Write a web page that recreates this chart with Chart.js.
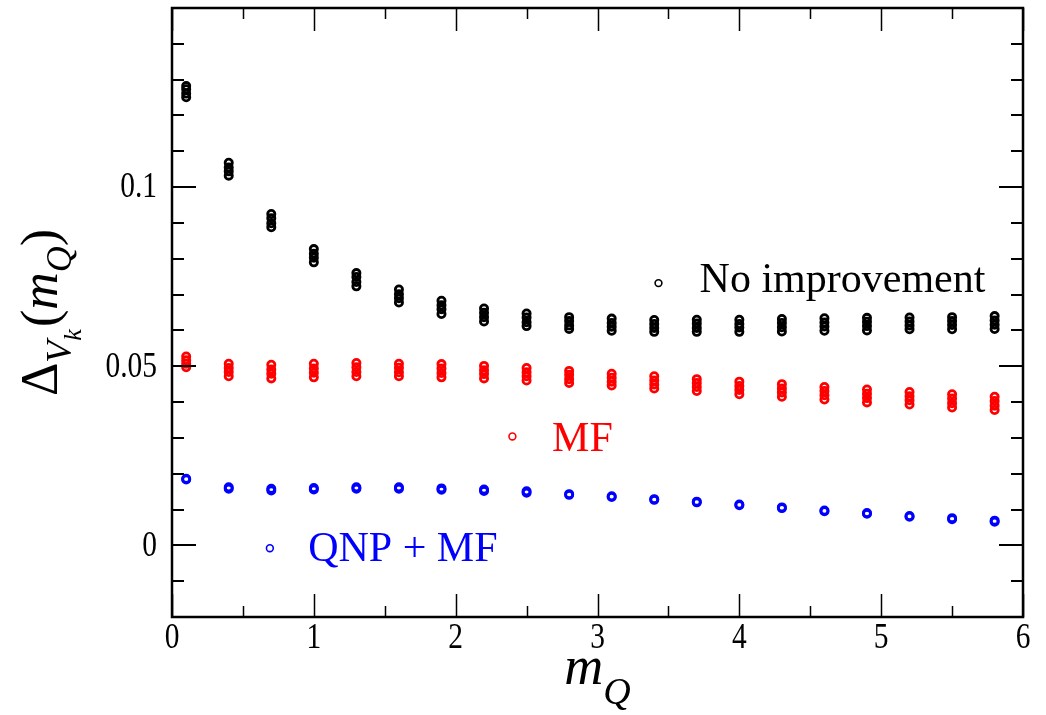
<!doctype html>
<html>

<head>
	<title>Delta V_k versus m_Q</title>
	<script src="https://cdn.jsdelivr.net/npm/chart.js@4.4.0/dist/chart.umd.min.js"></script>
	<style>
		html, body { margin: 0; padding: 0; background: #fff; }
		#canvas-holder { width: 1046px; height: 715px; }
	</style>
</head>

<body>
	<div id="canvas-holder">
		<canvas id="chart-area" width="1046" height="715"></canvas>
	</div>

	<script>
		// masses on the x axis
		var mQ = [0.1, 0.4, 0.7, 1.0, 1.3, 1.6, 1.9, 2.2, 2.5, 2.8, 3.1, 3.4, 3.7, 4.0, 4.3, 4.6, 4.9, 5.2, 5.5, 5.8];

		// several values per mass, read top to bottom
		var noImprovement = [
			[0.1282, 0.1273, 0.1261, 0.1251],
			[0.1068, 0.1055, 0.1044, 0.1032],
			[0.0925, 0.0913, 0.0899, 0.0888],
			[0.0827, 0.0814, 0.0803, 0.0790],
			[0.0760, 0.0749, 0.0735, 0.0723],
			[0.0714, 0.0701, 0.0690, 0.0678],
			[0.0683, 0.0670, 0.0659, 0.0646],
			[0.0661, 0.0649, 0.0637, 0.0625],
			[0.0647, 0.0636, 0.0623, 0.0612],
			[0.0637, 0.0626, 0.0614, 0.0604],
			[0.0633, 0.0621, 0.0610, 0.0599],
			[0.0629, 0.0618, 0.0607, 0.0596],
			[0.0630, 0.0619, 0.0607, 0.0596],
			[0.0630, 0.0618, 0.0608, 0.0596],
			[0.0632, 0.0621, 0.0609, 0.0597],
			[0.0634, 0.0622, 0.0611, 0.0599],
			[0.0635, 0.0624, 0.0612, 0.0600],
			[0.0636, 0.0625, 0.0614, 0.0603],
			[0.0637, 0.0626, 0.0615, 0.0603],
			[0.0640, 0.0628, 0.0616, 0.0604]
		];

		var mfOnly = [
			[0.0527, 0.0517, 0.0507, 0.0497],
			[0.0507, 0.0495, 0.0484, 0.0472],
			[0.0504, 0.0491, 0.0479, 0.0466],
			[0.0507, 0.0494, 0.0482, 0.0469],
			[0.0509, 0.0497, 0.0484, 0.0472],
			[0.0507, 0.0496, 0.0483, 0.0472],
			[0.0506, 0.0494, 0.0481, 0.0469],
			[0.0501, 0.0489, 0.0478, 0.0466],
			[0.0495, 0.0483, 0.0472, 0.0460],
			[0.0487, 0.0476, 0.0464, 0.0453],
			[0.0479, 0.0468, 0.0457, 0.0446],
			[0.0472, 0.0460, 0.0449, 0.0438],
			[0.0464, 0.0453, 0.0442, 0.0431],
			[0.0457, 0.0445, 0.0434, 0.0422],
			[0.0450, 0.0438, 0.0427, 0.0415],
			[0.0442, 0.0431, 0.0419, 0.0407],
			[0.0435, 0.0423, 0.0411, 0.0399],
			[0.0428, 0.0416, 0.0405, 0.0393],
			[0.0422, 0.0410, 0.0397, 0.0385],
			[0.0415, 0.0403, 0.0390, 0.0378]
		];

		var qnpMf = [
			[0.0186, 0.0184],
			[0.0162, 0.0158],
			[0.0158, 0.0153],
			[0.0160, 0.0156],
			[0.0162, 0.0158],
			[0.0162, 0.0158],
			[0.0159, 0.0155],
			[0.0156, 0.0152],
			[0.0151, 0.0147],
			[0.0143, 0.0141],
			[0.0137, 0.0135],
			[0.0129, 0.0127],
			[0.0122, 0.0120],
			[0.0114, 0.0112],
			[0.0106, 0.0104],
			[0.0097, 0.0095],
			[0.0090, 0.0088],
			[0.0082, 0.0080],
			[0.0076, 0.0073],
			[0.0069, 0.0066]
		];

		var xLabels = [0, 1, 2, 3, 4, 5, 6];
		var yMajor = [0, 0.05, 0.1];
		var yLabels = ['0', '0.05', '0.1'];

		// in-plot labels: [text, colour, marker x, marker y, text x, text baseline y]
		var seriesNotes = [
			['No improvement', '#000000', 3.43, 0.0732, 3.72, 0.0707],
			['MF', '#ff0000', 2.40, 0.0304, 2.68, 0.0263],
			['QNP + MF', '#0000ff', 0.69, -0.0008, 0.96, -0.0043]
		];

		function toPoints(rows) {
			var pts = [];
			rows.forEach(function(row, i) {
				row.forEach(function(v) { pts.push({ x: mQ[i], y: v }); });
			});
			return pts;
		}

		function near(a, b) { return Math.abs(a - b) < 1e-7; }
		function isMajorY(v) { return yMajor.some(function(m) { return near(m, v); }); }
		function isMajorX(v) { return xLabels.some(function(m) { return near(m, v); }); }

		var serif = '"Liberation Serif", "Times New Roman", serif';

		function drawPieces(ctx, pieces, x0, y0) {
			var x = x0;
			pieces.forEach(function(p) {
				ctx.font = p.font;
				ctx.fillText(p.text, x, y0 + p.dy);
				x += ctx.measureText(p.text).width + (p.gap || 0);
			});
		}
		function piecesWidth(ctx, pieces) {
			var w = 0;
			pieces.forEach(function(p) {
				ctx.font = p.font;
				w += ctx.measureText(p.text).width + (p.gap || 0);
			});
			return w;
		}
		// tick labels in the original are a little taller than wide
		function tallText(ctx, text, x, y) {
			ctx.save();
			ctx.translate(x, y);
			ctx.scale(0.95, 1.15);
			ctx.fillText(text, 0, 0);
			ctx.restore();
		}

		var framePlugin = {
			id: 'frame',
			afterDraw: function(chart) {
				var ctx = chart.ctx, a = chart.chartArea;
				var xs = chart.scales.x, ys = chart.scales.y;
				ctx.save();
				ctx.strokeStyle = '#000';
				ctx.fillStyle = '#000';

				// ticks, pointing inwards on all four sides
				ctx.lineWidth = 1.5;
				xs.ticks.forEach(function(t) {
					var px = Math.round(xs.getPixelForValue(t.value)) + 0.5;
					var len = isMajorX(t.value) ? 23 : 11;
					ctx.beginPath();
					ctx.moveTo(px, a.bottom); ctx.lineTo(px, a.bottom - len);
					ctx.moveTo(px, a.top); ctx.lineTo(px, a.top + len);
					ctx.stroke();
				});
				ctx.lineWidth = 2;
				ys.ticks.forEach(function(t) {
					var py = Math.round(ys.getPixelForValue(t.value));
					var len = isMajorY(t.value) ? 24 : 12;
					ctx.beginPath();
					ctx.moveTo(a.left, py); ctx.lineTo(a.left + len, py);
					ctx.moveTo(a.right, py); ctx.lineTo(a.right - len, py);
					ctx.stroke();
				});
				ctx.lineWidth = 2.5;
				ctx.strokeRect(a.left, a.top, a.right - a.left, a.bottom - a.top);

				// tick labels
				ctx.font = '31px ' + serif;
				ctx.textAlign = 'center';
				ctx.textBaseline = 'top';
				xLabels.forEach(function(v) {
					tallText(ctx, String(v), xs.getPixelForValue(v), a.bottom + 4);
				});
				ctx.textAlign = 'right';
				ctx.textBaseline = 'middle';
				yMajor.forEach(function(v, i) {
					tallText(ctx, yLabels[i], a.left - 15, ys.getPixelForValue(v) + 1);
				});

				// series notes
				seriesNotes.forEach(function(n) {
					ctx.strokeStyle = n[1];
					ctx.fillStyle = n[1];
					ctx.lineWidth = 1.6;
					ctx.beginPath();
					ctx.arc(xs.getPixelForValue(n[2]), ys.getPixelForValue(n[3]), 3.4, 0, Math.PI * 2);
					ctx.stroke();
					ctx.font = '42px ' + serif;
					ctx.textAlign = 'left';
					ctx.textBaseline = 'alphabetic';
					ctx.fillText(n[0], xs.getPixelForValue(n[4]), ys.getPixelForValue(n[5]));
				});

				// axis titles
				ctx.fillStyle = '#000';
				ctx.textAlign = 'left';
				ctx.textBaseline = 'alphabetic';
				var xt = [
					{ text: 'm', font: 'italic 54px ' + serif, dy: 0 },
					{ text: 'Q', font: 'italic 38px ' + serif, dy: 20 }
				];
				var cx = (a.left + a.right) / 2;
				drawPieces(ctx, xt, cx - piecesWidth(ctx, xt) / 2, 684);

				var yt = [
					{ text: '\u0394', font: '52px ' + serif, dy: 0 },
					{ text: 'V', font: 'italic 36px ' + serif, dy: 14 },
					{ text: 'k', font: 'italic 26px ' + serif, dy: 24, gap: 2 },
					{ text: '(', font: '52px ' + serif, dy: 0 },
					{ text: 'm', font: 'italic 52px ' + serif, dy: 0 },
					{ text: 'Q', font: 'italic 36px ' + serif, dy: 14 },
					{ text: ')', font: '52px ' + serif, dy: 0 }
				];
				ctx.translate(57, (a.top + a.bottom) / 2);
				ctx.rotate(-Math.PI / 2);
				drawPieces(ctx, yt, -piecesWidth(ctx, yt) / 2, 0);
				ctx.restore();
			}
		};

		var ctx = document.getElementById('chart-area').getContext('2d');
		function pointSet(rows, colour) {
			return {
				data: toPoints(rows),
				showLine: false,
				pointStyle: 'circle',
				pointRadius: 3.6,
				pointBorderWidth: 2.8,
				borderColor: colour,
				backgroundColor: 'rgba(0,0,0,0)',
				pointHoverRadius: 3.6
			};
		}

		window.myChart = new Chart(ctx, {
			type: 'scatter',
			data: {
				datasets: [
					pointSet(noImprovement, '#000000'),
					pointSet(mfOnly, '#ff0000'),
					pointSet(qnpMf, '#0000ff')
				]
			},
			options: {
				responsive: false,
				animation: false,
				devicePixelRatio: 1,
				layout: { padding: { left: 0, right: 23, top: 8, bottom: 0 } },
				plugins: { legend: { display: false }, tooltip: { enabled: false }, title: { display: false } },
				scales: {
					x: {
						type: 'linear', min: 0, max: 6,
						grid: { display: false, drawTicks: false },
						border: { display: false },
						ticks: { stepSize: 0.5, display: false, autoSkip: false },
						afterFit: function(s) { s.height = 98; }
					},
					y: {
						type: 'linear', min: -0.02, max: 0.15,
						grid: { display: false, drawTicks: false },
						border: { display: false },
						ticks: { stepSize: 0.01, display: false, autoSkip: false },
						afterFit: function(s) { s.width = 172; }
					}
				}
			},
			plugins: [framePlugin]
		});
	</script>
</body>

</html>
